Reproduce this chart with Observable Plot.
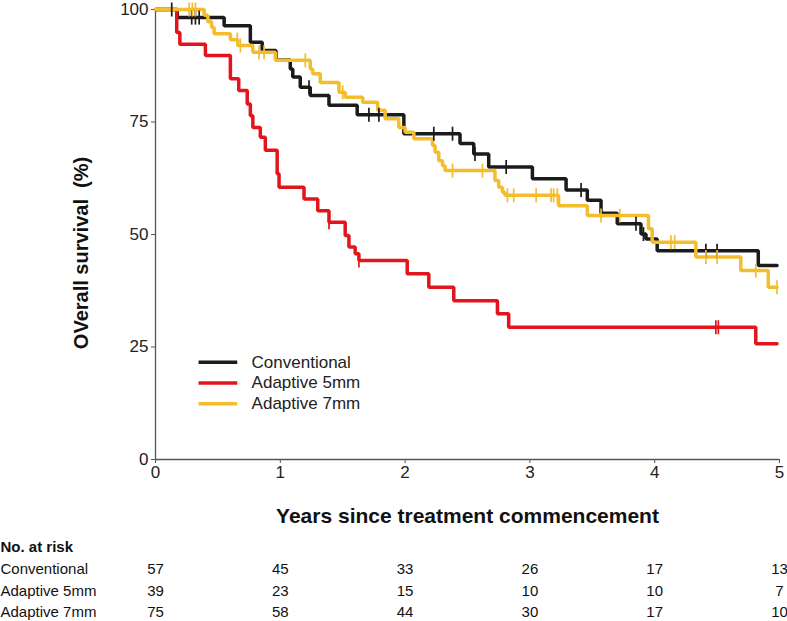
<!DOCTYPE html>
<html>
<head>
<meta charset="utf-8">
<script src="https://cdn.jsdelivr.net/npm/d3@7"></script>
<script src="https://cdn.jsdelivr.net/npm/@observablehq/plot@0.6"></script>
<style>
  html, body { margin: 0; padding: 0; background: #fff; }
  #chart svg { display: block; }
</style>
</head>
<body>
<div id="chart"></div>
<script>
// ---------- data ----------
const groups = ["Conventional", "Adaptive 5mm", "Adaptive 7mm"];
const colors = ["#1b1b1b", "#e2141c", "#f3bd2d"];

const conventionalTime = [0, 0.174, 0.55, 0.76, 0.855, 0.965, 1.08, 1.10, 1.16, 1.24, 1.39, 1.616, 1.99, 2.44, 2.55, 2.67, 3.02, 3.29, 3.46, 3.57, 3.70, 3.89, 3.93, 4.02, 4.83];
const conventionalSurv = [100, 98.2, 96.4, 92.7, 90.9, 88.8, 86.8, 85.0, 82.7, 80.9, 78.7, 76.6, 72.4, 70.2, 67.9, 65.0, 62.4, 59.9, 57.6, 54.7, 52.4, 50.1, 49.0, 46.4, 43.1];
const conventionalCensor = [0.13, 0.29, 0.32, 0.35, 1.23, 1.71, 1.79, 2.23, 2.38, 2.56, 2.81, 3.41, 3.85, 3.91, 4.41, 4.50];

const adaptive5Time = [0, 0.17, 0.195, 0.40, 0.60, 0.667, 0.735, 0.76, 0.78, 0.84, 0.88, 0.975, 0.99, 1.19, 1.30, 1.39, 1.52, 1.55, 1.60, 1.63, 2.017, 2.19, 2.39, 2.74, 2.83, 4.81];
const adaptive5Surv = [100, 94.9, 92.3, 89.8, 84.6, 82.0, 79.0, 76.4, 73.8, 71.6, 68.7, 63.5, 60.5, 57.9, 55.3, 52.7, 49.8, 47.2, 45.7, 44.2, 41.3, 38.3, 35.3, 32.4, 29.4, 25.7];
const adaptive5Censor = [1.39, 1.63, 4.49, 4.51];

const adaptive7Time = [0, 0.39, 0.42, 0.45, 0.47, 0.60, 0.66, 0.78, 0.96, 1.24, 1.26, 1.32, 1.47, 1.52, 1.66, 1.78, 1.84, 1.95, 2.00, 2.07, 2.22, 2.24, 2.27, 2.30, 2.32, 2.72, 2.75, 2.78, 2.80, 3.23, 3.46, 3.95, 3.98, 4.33, 4.69, 4.91];
const adaptive7Surv = [100, 98.7, 97.3, 96.0, 94.6, 93.3, 92.0, 90.5, 88.7, 86.8, 85.7, 83.8, 81.6, 80.5, 79.4, 77.6, 75.7, 73.8, 72.7, 71.3, 69.8, 68.3, 66.4, 65.3, 64.2, 62.0, 60.5, 59.4, 58.7, 56.4, 54.2, 51.3, 48.3, 45.0, 42.0, 38.3];
const adaptive7Censor = [0.27, 0.295, 0.32, 0.655, 0.68, 0.83, 0.87, 1.20, 1.50, 2.38, 2.62, 2.82, 2.87, 3.05, 3.17, 3.19, 3.22, 3.57, 3.72, 4.13, 4.16, 4.41, 4.50, 4.81, 4.98];

const followUpEnd = 4.98;

const xTicks = [0, 1, 2, 3, 4, 5];
const yTicks = [0, 25, 50, 75, 100];

const riskTimes = [0, 1, 2, 3, 4, 5];
const riskConventional = [57, 45, 33, 26, 17, 13];
const riskAdaptive5 = [39, 23, 15, 10, 10, 7];
const riskAdaptive7 = [75, 58, 44, 30, 17, 10];

// ---------- build tables ----------
const series = [
  {group: groups[0], T: conventionalTime, S: conventionalSurv, C: conventionalCensor, risk: riskConventional},
  {group: groups[1], T: adaptive5Time, S: adaptive5Surv, C: adaptive5Censor, risk: riskAdaptive5},
  {group: groups[2], T: adaptive7Time, S: adaptive7Surv, C: adaptive7Censor, risk: riskAdaptive7}
];

function survAt(T, S, t) {
  let v = S[0];
  for (let i = 0; i < T.length; i++) if (T[i] <= t) v = S[i];
  return v;
}

const curveRows = [];
const censorRows = [];
for (const s of series) {
  s.T.forEach((t, i) => curveRows.push({group: s.group, t, s: s.S[i]}));
  curveRows.push({group: s.group, t: followUpEnd, s: s.S[s.S.length - 1]});
  s.C.forEach(t => censorRows.push({group: s.group, t, s: survAt(s.T, s.S, t)}));
}

const font = "'Liberation Sans', Arial, Helvetica, sans-serif";

const censorSymbol = {
  draw(context, size) {
    const r = Math.sqrt(size / Math.PI);
    context.moveTo(0, -r);
    context.lineTo(0, r);
  }
};

// legend layout (data units)
const legendX1 = 0.345, legendX2 = 0.655, legendTextX = 0.77;
const legendY = [21.6, 17.0, 12.4];
const legendRows = groups.map((g, i) => ({group: g, y: legendY[i]}));

// risk-table row offsets (px below the x axis)
const tableDy = [110, 131.5, 153];

const marks = [
  Plot.ruleX([0], {stroke: "#555", strokeWidth: 1.3}),
  Plot.ruleY([0], {stroke: "#555", strokeWidth: 1.3}),
  Plot.axisY({ticks: yTicks, tickFormat: "d", tickSize: 4, tickPadding: 3, fontSize: 17, label: null, stroke: "#555", fill: "#222"}),
  Plot.axisX({ticks: xTicks, tickFormat: "d", tickSize: 4, tickPadding: 2, fontSize: 17, label: null, stroke: "#555", fill: "#222"}),
  Plot.line(curveRows, {x: "t", y: "s", z: "group", stroke: "group", curve: "step-after", strokeWidth: 3.5, strokeLinejoin: "miter"}),
  Plot.dot(censorRows, {x: "t", y: "s", stroke: "group", symbol: censorSymbol, r: 7, strokeWidth: 1.7, fill: "none"}),
  Plot.link(legendRows, {x1: legendX1, x2: legendX2, y1: "y", y2: "y", stroke: "group", strokeWidth: 3.5}),
  Plot.text(legendRows, {x: legendTextX, y: "y", text: "group", textAnchor: "start", lineAnchor: "middle", fontSize: 17, fill: "#222"}),
  Plot.text(["OVerall survival \u00a0(%)"], {frameAnchor: "left", dx: -74, dy: 18.5, rotate: -90, textAnchor: "middle", lineAnchor: "middle", fontSize: 20, fontWeight: "bold", fill: "#111"}),
  Plot.text(["Years since treatment commencement"], {frameAnchor: "bottom", dy: 57, textAnchor: "middle", lineAnchor: "middle", fontSize: 21, fontWeight: "bold", fill: "#111"}),
  Plot.text(["No. at risk"], {frameAnchor: "bottom-left", dx: -155, dy: 88, textAnchor: "start", lineAnchor: "middle", fontSize: 15, fontWeight: "bold", fill: "#111"})
];

series.forEach((s, i) => {
  marks.push(Plot.text([s.group], {frameAnchor: "bottom-left", dx: -155, dy: tableDy[i], textAnchor: "start", lineAnchor: "middle", fontSize: 15, fill: "#111"}));
  const rows = riskTimes.map((t, j) => ({t, n: s.risk[j]}));
  marks.push(Plot.text(rows, {x: "t", text: d => String(d.n), frameAnchor: "bottom", dy: tableDy[i], textAnchor: "middle", lineAnchor: "middle", fontSize: 15, fill: "#111"}));
});

const chart = Plot.plot({
  width: 787,
  height: 621,
  marginTop: 9,
  marginRight: 8,
  marginBottom: 162,
  marginLeft: 155,
  style: {fontFamily: font, background: "#fff", color: "#222", overflow: "visible"},
  x: {domain: [0, 5], axis: null},
  y: {domain: [0, 100], axis: null},
  color: {domain: groups, range: colors},
  marks
});
document.getElementById("chart").appendChild(chart);
</script>
</body>
</html>
